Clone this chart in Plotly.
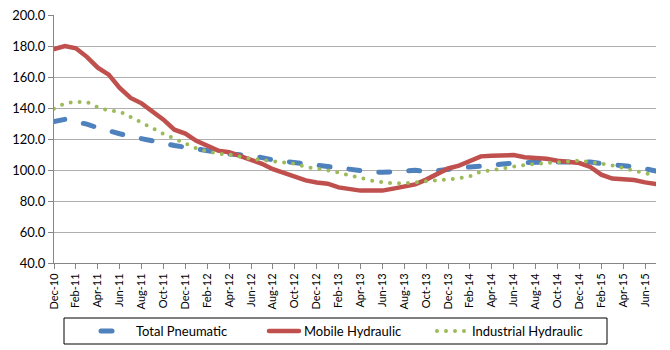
import plotly.graph_objects as go

months = []
_mn = ["Jan", "Feb", "Mar", "Apr", "May", "Jun", "Jul", "Aug", "Sep", "Oct", "Nov", "Dec"]
months.append("Dec-10")
for yr in range(11, 16):
    for m in _mn:
        months.append(f"{m}-{yr}")
months = months[:56]  # Dec-10 .. Jul-15

total_pneumatic = [
    131.2, 132.7, 131.0, 129.6, 127.2, 125.0, 123.4, 121.7, 120.0, 118.3,
    117.3, 115.8, 114.6, 113.7, 112.3, 111.2, 110.3, 109.8, 109.0, 108.0,
    106.5, 105.6, 105.0, 104.0, 103.0, 102.5, 100.8, 100.0, 99.8, 98.8,
    98.5, 98.5, 99.2, 99.8, 99.0, 99.5, 100.5, 101.2, 102.0, 102.4,
    102.8, 103.8, 104.5, 105.0, 105.0, 105.2, 105.2, 105.4, 105.4, 105.2,
    104.2, 103.7, 103.0, 102.0, 100.8, 99.3,
]
mobile_hydraulic = [
    178.0, 180.0, 178.5, 173.0, 166.0, 161.5, 153.0, 146.5, 143.0, 138.0,
    132.5, 126.0, 123.5, 118.8, 116.0, 112.5, 111.5, 109.0, 106.5, 104.0,
    100.5, 98.0, 95.5, 93.3, 92.0, 91.2, 88.8, 87.5, 86.7, 86.7,
    86.7, 88.0, 89.0, 90.7, 93.8, 97.5, 101.0, 102.8, 106.0, 108.8,
    109.2, 109.2, 109.6, 108.2, 108.0, 107.2, 106.0, 105.0, 104.5, 102.0,
    97.0, 94.5, 94.0, 93.5, 92.0, 91.0,
]
industrial_hydraulic = [
    139.5, 143.0, 144.0, 143.8, 140.5, 138.3, 137.8, 134.4, 130.6, 127.0,
    123.3, 120.0, 116.8, 114.0, 112.0, 110.5, 110.0, 108.5, 107.2, 106.5,
    105.5, 104.7, 104.0, 102.0, 101.0, 99.8, 98.3, 96.5, 94.5, 93.2,
    92.2, 91.4, 91.4, 91.8, 92.7, 93.3, 94.0, 94.6, 96.0, 99.0,
    99.8, 101.0, 102.4, 103.3, 104.0, 104.6, 105.2, 105.9, 106.0, 105.2,
    104.3, 103.0, 101.3, 99.3, 97.8, 97.0,
]
tick_labels = months[::2]
y_ticks = [40, 60, 80, 100, 120, 140, 160, 180, 200]

FONT = "Lato"
W, H = 670, 350
ML, MR, MT, MB = 54, 14, 15, 87
PW, PH = W - ML - MR, H - MT - MB

fig = go.Figure()
fig.add_trace(go.Scatter(x=months, y=total_pneumatic, name="Total Pneumatic", mode="lines",
                         line=dict(color="#4F81BD", width=5, dash="11px,19px")))
fig.add_trace(go.Scatter(x=months, y=mobile_hydraulic, name="Mobile Hydraulic", mode="lines",
                         line=dict(color="#C0504D", width=4.5)))
fig.add_trace(go.Scatter(x=months, y=industrial_hydraulic, name="Industrial Hydraulic", mode="lines",
                         line=dict(color="#9BBB59", width=4, dash="0px,9px")))

# legend frame (pixel positions converted to paper coordinates)
bx0, bx1, by0, by1 = 64, 607, 318, 344
fig.add_shape(type="rect", xref="paper", yref="paper",
              x0=(bx0 - ML) / PW, x1=(bx1 - ML) / PW,
              y0=(MT + PH - by1) / PH, y1=(MT + PH - by0) / PH,
              line=dict(color="black", width=1), fillcolor="rgba(0,0,0,0)", layer="above")

fig.update_layout(
    width=W, height=H,
    margin=dict(l=ML, r=MR, t=MT, b=MB, autoexpand=False),
    paper_bgcolor="white", plot_bgcolor="white",
    font=dict(family=FONT, size=13, color="black"),
    showlegend=True,
    legend=dict(orientation="h", xref="container", yref="container",
                x=90 / W, xanchor="left", y=1 - 331 / H, yanchor="middle",
                borderwidth=0, bgcolor="rgba(0,0,0,0)",
                entrywidth=117, entrywidthmode="pixels", indentation=6,
                font=dict(family=FONT, size=13)),
)
fig.update_xaxes(type="category", range=[0, len(months) - 1], automargin=False,
                 tickmode="array", tickvals=tick_labels, ticktext=tick_labels,
                 tickangle=-90, ticks="outside", ticklen=5, tickcolor="#868686",
                 showline=True, linecolor="#868686", linewidth=1,
                 showgrid=False, tickfont=dict(family=FONT, size=11))
fig.update_yaxes(range=[40, 200], tickvals=y_ticks, tickformat=".1f", automargin=False,
                 ticks="outside", ticklen=5, tickcolor="#868686",
                 showline=True, linecolor="#868686", linewidth=1,
                 showgrid=True, gridcolor="#AFAFAF", gridwidth=1.3, zeroline=False,
                 tickfont=dict(family=FONT, size=13))

post = """
function rc(){document.querySelectorAll('.js-line').forEach(function(p){p.style.strokeLinecap='round';});}
rc(); setTimeout(rc, 50);
"""
fig.write_html("out.html", post_script=post)
